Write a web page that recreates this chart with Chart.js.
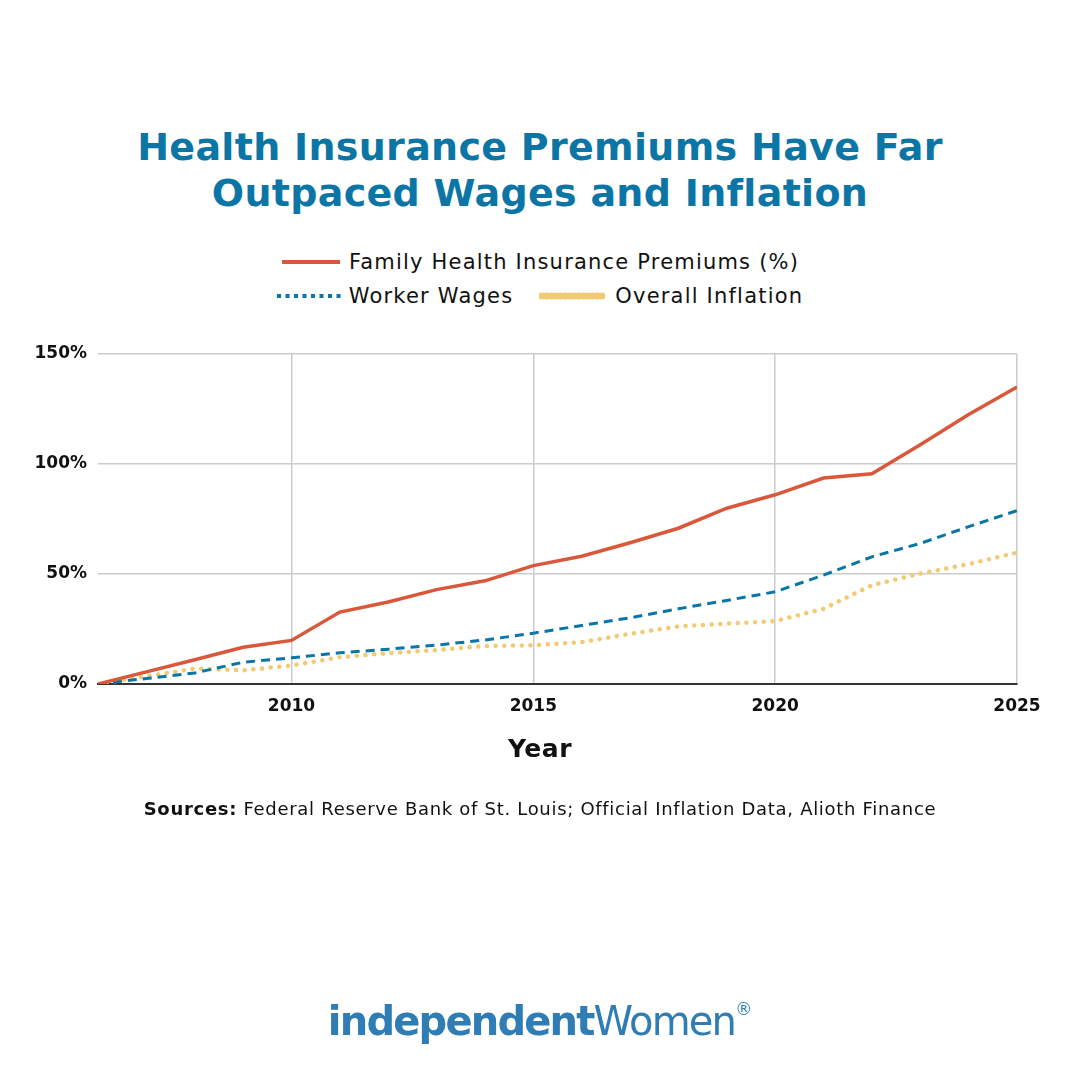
<!DOCTYPE html>
<html>
<head>
<meta charset="utf-8">
<script src="https://cdn.jsdelivr.net/npm/chart.js@4"></script>
<style>
  html, body { margin: 0; padding: 0; background: #fff; }
  body { width: 1080px; height: 1080px; position: relative; overflow: hidden;
         font-family: "DejaVu Sans", sans-serif; color: #111; }
  #chartBox { position: absolute; left: 0; top: 0; width: 1080px; height: 1080px; }
  .title { position: absolute; left: 0; top: 124px; width: 1080px; text-align: center;
           color: #0b76a5; font-weight: bold; font-size: 38px; line-height: 46px; letter-spacing: 0.3px; }
  .legend { position: absolute; left: 0; width: 1080px; display: flex; justify-content: center;
            align-items: center; font-size: 21px; letter-spacing: 1.2px; color: #111; }
  .legend .item { display: flex; align-items: center; }
  .legend svg { margin-right: 8px; }
  .xtitle { position: absolute; left: 0; top: 734px; width: 1080px; text-align: center;
            font-size: 25px; font-weight: 600; letter-spacing: 0.5px; color: #111; }
  .sources { position: absolute; left: 0; top: 798px; width: 1080px; text-align: center;
             font-size: 18px; letter-spacing: 0.7px; color: #111; }
  .logo { position: absolute; left: 0; top: 998px; width: 1080px; text-align: center;
          font-size: 40px; color: #2f7db4; letter-spacing: -1.8px; }
  .logo sup { font-size: 17px; vertical-align: 20px; letter-spacing: 0; }
</style>
</head>
<body>
<div class="title">Health Insurance Premiums Have Far<br>Outpaced Wages and Inflation</div>

<div class="legend" style="top:250px">
  <div class="item">
    <svg width="60" height="10"><line x1="1" y1="5" x2="59" y2="5" stroke="#d9583b" stroke-width="4"/></svg>
    <span>Family Health Insurance Premiums (%)</span>
  </div>
</div>
<div class="legend" style="top:284px">
  <div class="item" style="margin-right:26px">
    <svg width="64" height="10"><line x1="0" y1="5" x2="64" y2="5" stroke="#0a75a7" stroke-width="4" stroke-dasharray="4 4.5"/></svg>
    <span>Worker Wages</span>
  </div>
  <div class="item">
    <svg width="68" height="10"><line x1="3" y1="5" x2="65" y2="5" stroke="#f2ca73" stroke-width="7" stroke-linecap="round" stroke-dasharray="0.1 4.5"/></svg>
    <span>Overall Inflation</span>
  </div>
</div>

<div id="chartBox"><canvas id="chart"></canvas></div>

<div class="xtitle">Year</div>
<div class="sources"><b>Sources:</b> Federal Reserve Bank of St. Louis; Official Inflation Data, Alioth Finance</div>
<div class="logo"><b>independent</b>Women<sup>®</sup></div>

<script>
const years     = [2006, 2007, 2008, 2009, 2010, 2011, 2012, 2013, 2014, 2015,
                   2016, 2017, 2018, 2019, 2020, 2021, 2022, 2023, 2024, 2025]
const premiums  = [0, 5.5, 11, 16.7, 19.8, 32.7, 37.3, 42.9, 46.9, 53.8,
                   58.1, 64.2, 70.8, 79.9, 86, 93.6, 95.6, 108.8, 122.5, 135]
const wages     = [0, 2.5, 5, 9.9, 11.9, 14.2, 15.8, 17.7, 20, 23.1,
                   26.6, 30.1, 34.2, 38, 41.9, 49.5, 57.8, 63.9, 71.5, 78.8]
const inflation = [0, 3.5, 7, 6.2, 8.4, 12.2, 14, 15.4, 17.3, 17.6,
                   19, 22.8, 26.2, 27.4, 28.6, 34.2, 44.9, 50.2, 54.5, 59.7]
const xTicks    = [2010, 2015, 2020, 2025]
const yTicks    = [0, 50, 100, 150]

const pts = arr => arr.map((v, i) => ({ x: years[i], y: v }))
const tickFont = { family: 'DejaVu Sans', size: 17, weight: '600' }

new Chart(document.getElementById('chart'), {
  type: 'line',
  data: {
    datasets: [
      {
        label: 'Family Health Insurance Premiums (%)',
        data: pts(premiums),
        borderColor: '#d9583b',
        borderWidth: 3.5,
        pointRadius: 0,
        tension: 0,
      },
      {
        label: 'Worker Wages',
        data: pts(wages),
        borderColor: '#0a75a7',
        borderWidth: 3,
        borderDash: [9, 6],
        pointRadius: 0,
        tension: 0,
      },
      {
        label: 'Overall Inflation',
        data: pts(inflation),
        borderColor: '#f2ca73',
        borderWidth: 4.5,
        borderDash: [0.1, 8.6],
        borderCapStyle: 'round',
        pointRadius: 0,
        tension: 0,
      },
    ],
  },
  options: {
    responsive: true,
    maintainAspectRatio: false,
    animation: false,
    layout: { padding: { top: 354, left: 0, right: 63, bottom: 300 } },
    plugins: {
      legend:  { display: false },
      tooltip: { enabled: false },
    },
    scales: {
      x: {
        type: 'linear',
        min: 2006,
        max: 2025,
        afterBuildTicks: s => { s.ticks = xTicks.map(v => ({ value: v })) },
        afterFit: s => { s.height = 96 },
        ticks: { color: '#111', font: tickFont, padding: 12, maxRotation: 0, callback: v => String(v) },
        grid: { color: '#cccccc', lineWidth: 1.5, drawTicks: false },
        border: { color: '#333', width: 2 },
      },
      y: {
        min: 0,
        max: 150,
        afterBuildTicks: s => { s.ticks = yTicks.map(v => ({ value: v })) },
        afterFit: s => { s.width = 98 },
        ticks: { color: '#111', font: tickFont, padding: 11, callback: v => v + '%' },
        grid: { color: '#cccccc', lineWidth: 1.5, drawTicks: false },
        border: { display: false },
      },
    },
  },
})
</script>
</body>
</html>
